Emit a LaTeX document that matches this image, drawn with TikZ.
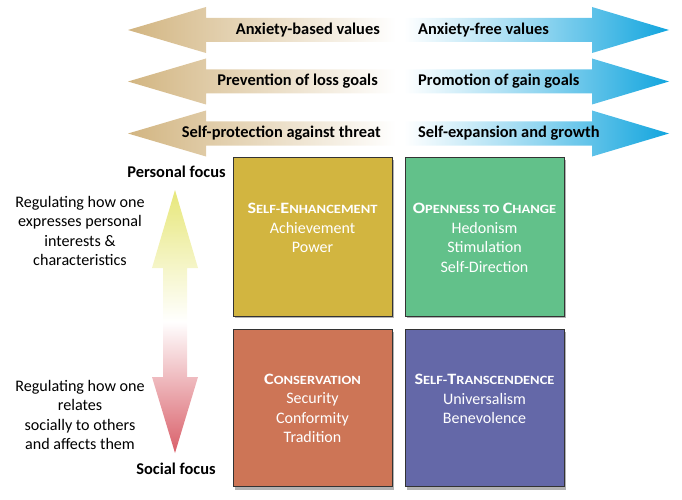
\documentclass[tikz,border=0pt]{standalone}
\usepackage{fontspec}
\setmainfont{Carlito}
\newfontfamily\scfont[FakeStretch=1.15]{Carlito}
\usetikzlibrary{positioning}
\definecolor{tanc}{HTML}{D2B581}
\definecolor{bluec}{HTML}{12A5DE}
\definecolor{goldc}{HTML}{D2B540}
\definecolor{greenc}{HTML}{62C18A}
\definecolor{rustc}{HTML}{CD7556}
\definecolor{violc}{HTML}{6468A8}
\definecolor{yelc}{HTML}{E7E77A}
\definecolor{redc}{HTML}{D95F69}
\newcommand\sca[1]{{\fontsize{15.8}{19.5}\selectfont #1}}
\newcommand\scb[1]{{\fontsize{12.6}{19.5}\selectfont #1}}
\tikzset{
  lbl/.style={font=\fontsize{16.4}{19.5}\selectfont\bfseries, inner sep=0pt},
  side/.style={font=\fontsize{16.1}{19.5}\selectfont, align=center, inner sep=0pt},
  boxtxt/.style={font=\fontsize{16}{19.5}\selectfont, text=white, align=center, inner sep=0pt},
  valbox/.style={draw=black!80, line width=0.8pt},
  shadowbox/.style={fill=black!30},
}
\begin{document}
\begin{tikzpicture}[x=1pt,y=-1pt]
\useasboundingbox (0,0) rectangle (682,500);
% horizontal arrows
\foreach \c/\n in {30/a,81.5/b,133.5/c}{
  \shade[left color=tanc, right color=white]
    (396,\c-12) -- (206,\c-12) -- (206,\c-23) -- (128,\c) -- (206,\c+23) -- (206,\c+12) -- (396,\c+12) -- cycle;
  \shade[left color=white, right color=bluec, middle color=bluec!45]
    (404,\c-12) -- (592,\c-12) -- (592,\c-23) -- (669,\c) -- (592,\c+23) -- (592,\c+12) -- (404,\c+12) -- cycle;
}
\node[lbl, anchor=east] (l1) at (380,30) {Anxiety-based values};
\node[lbl, anchor=west] (r1) at (418,30) {Anxiety-free values};
\node[lbl, anchor=east] (l2) at (378,81.5) {Prevention of loss goals};
\node[lbl, anchor=west] (r2) at (418,81.5) {Promotion of gain goals};
\node[lbl, anchor=east] (l3) at (381,133.5) {Self-protection against threat};
\node[lbl, anchor=west] (r3) at (418,133.5) {Self-expansion and growth};
% vertical arrow
\shade[top color=yelc, bottom color=redc, middle color=white]
  (175,190) -- (198,268) -- (187,268) -- (187,377) -- (198,377) -- (175,453)
  -- (152,377) -- (163,377) -- (163,268) -- (152,268) -- cycle;
\node[lbl] (pf) at (176.5,172) {Personal focus};
\node[lbl] (sf) at (176,469) {Social focus};
\node[side] (t1) at (80,231) {Regulating how one\\expresses personal\\interests \&\\characteristics};
\node[side] (t2) at (80,415) {Regulating how one\\relates\\socially to others\\and affects them};
% boxes
\foreach \x/\y in {233/157,405/157,233/329,405/329}{
  \fill[shadowbox] (\x+2,\y+3) rectangle (\x+161,\y+161);
}
\filldraw[valbox, fill=goldc] (233,157) rectangle (392,316);
\filldraw[valbox, fill=greenc] (405,157) rectangle (564,316);
\filldraw[valbox, fill=rustc] (233,329) rectangle (392,486);
\filldraw[valbox, fill=violc] (405,329) rectangle (564,486);
\node[boxtxt] (se) at (312.5,228) {{\scfont\bfseries\sca{S}\scb{ELF-}\sca{E}\scb{NHANCEMENT}}\\Achievement\\Power};
\node[boxtxt] (oc) at (484.5,238) {{\scfont\bfseries\sca{O}\scb{PENNESS TO }\sca{C}\scb{HANGE}}\\Hedonism\\Stimulation\\Self-Direction};
\node[boxtxt] (co) at (312.5,408.5) {{\scfont\bfseries\sca{C}\scb{ONSERVATION}}\\Security\\Conformity\\Tradition};
\node[boxtxt] (st) at (484.5,399) {{\scfont\bfseries\sca{S}\scb{ELF-}\sca{T}\scb{RANSCENDENCE}}\\Universalism\\Benevolence};
\end{tikzpicture}
\end{document}
